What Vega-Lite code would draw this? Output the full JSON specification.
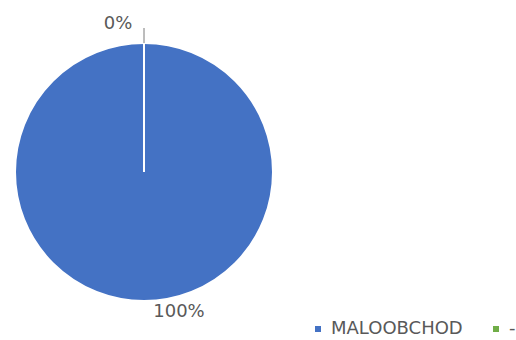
{
  "$schema": "https://vega.github.io/schema/vega-lite/v6.json",
  "width": 288,
  "height": 336,
  "padding": {"left": 0, "top": 4, "right": 0, "bottom": 0},
  "autosize": {"type": "pad"},
  "background": "white",
  "config": {
    "view": {"stroke": null},
    "font": "DejaVu Sans",
    "legend": {
      "orient": "none",
      "legendX": 309,
      "legendY": 316,
      "direction": "horizontal",
      "symbolType": "square",
      "symbolSize": 36,
      "symbolStrokeWidth": 0,
      "labelFont": "DejaVu Sans",
      "labelFontSize": 18,
      "labelColor": "#595959",
      "labelOffset": 4,
      "columnPadding": 24,
      "title": null
    }
  },
  "data": {
    "values": [
      {"category": "MALOOBCHOD", "value": 100, "label": "100%"},
      {"category": "-", "value": 0, "label": "0%"}
    ]
  },
  "encoding": {
    "theta": {"field": "value", "type": "quantitative", "stack": true}
  },
  "layer": [
    {
      "mark": {"type": "arc", "outerRadius": 129, "stroke": "white", "strokeWidth": 2},
      "encoding": {
        "color": {
          "field": "category",
          "type": "nominal",
          "scale": {"domain": ["MALOOBCHOD", "-"], "range": ["#4472C4", "#70AD47"]},
          "legend": {"title": null}
        }
      }
    },
    {
      "mark": {"type": "arc", "innerRadius": 129, "outerRadius": 144, "fill": null, "stroke": "#A6A6A6", "strokeWidth": 1},
      "encoding": {
        "detail": {"field": "category", "type": "nominal"},
        "strokeOpacity": {
          "condition": {"test": "datum.category === '-'", "value": 1},
          "value": 0
        }
      }
    },
    {
      "mark": {"type": "text", "radius": 150, "dx": -26, "dy": 2, "fontSize": 18, "color": "#595959", "font": "DejaVu Sans"},
      "encoding": {
        "detail": {"field": "category", "type": "nominal"},
        "text": {
          "condition": {"test": "datum.category === '-'", "field": "label"},
          "value": ""
        }
      }
    },
    {
      "mark": {"type": "text", "radius": 140, "dx": 35, "dy": 0, "fontSize": 18, "color": "#595959", "font": "DejaVu Sans"},
      "encoding": {
        "detail": {"field": "category", "type": "nominal"},
        "text": {
          "condition": {"test": "datum.category === 'MALOOBCHOD'", "field": "label"},
          "value": ""
        }
      }
    }
  ]
}
